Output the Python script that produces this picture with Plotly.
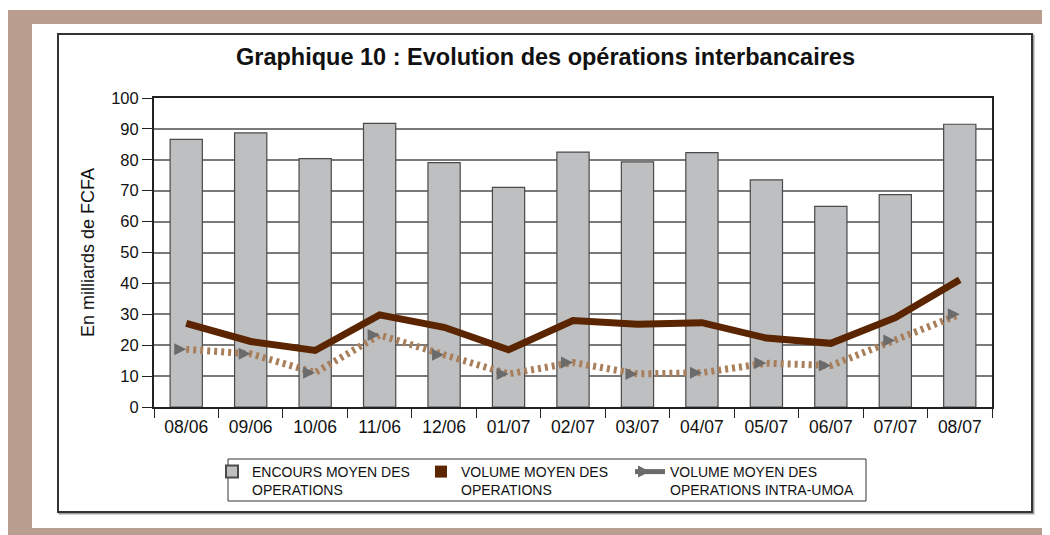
import plotly.graph_objects as go

months = ["08/06", "09/06", "10/06", "11/06", "12/06", "01/07", "02/07",
          "03/07", "04/07", "05/07", "06/07", "07/07", "08/07"]
encours = [86.6, 88.7, 80.4, 91.8, 79.1, 71.1, 82.5, 79.3, 82.3, 73.5, 64.9, 68.7, 91.5]
volume = [27.1, 21.2, 18.3, 29.8, 25.8, 18.5, 28.0, 26.8, 27.3, 22.3, 20.6, 28.9, 41.2]
intra = [18.7, 17.2, 11.1, 23.3, 16.9, 10.7, 14.4, 10.7, 11.1, 14.2, 13.4, 21.5, 30.0]

name_enc = "ENCOURS MOYEN DES<br>OPERATIONS"
name_vol = "VOLUME MOYEN DES<br>OPERATIONS"
name_int = "VOLUME MOYEN DES<br>OPERATIONS INTRA-UMOA"

W, H = 1042, 527
OFF = 8  # page body margin
L, R, T, B = 146, 58, 90, 128
PW, PH = W - L - R, H - T - B


def px(x):
    return (x - OFF - L) / PW


def py(y):
    return (H - B - (y - OFF)) / PH


BROWN = "#5a2500"
TAN = "#a97f5b"
GREY_MARK = "#6b6b6b"

fig = go.Figure()
fig.add_trace(go.Bar(x=months, y=encours, name=name_enc, legend="legend",
                     marker=dict(color="#bebfc1", line=dict(color="#4a4a4a", width=1.2)),
                     showlegend=True))
fig.add_trace(go.Scatter(x=months, y=volume, mode="lines",
                         line=dict(color=BROWN, width=7), showlegend=False))
fig.add_trace(go.Scatter(x=months, y=intra, mode="lines+markers",
                         line=dict(color=TAN, width=7, dash="3px,4px"),
                         marker=dict(symbol="arrow-right", size=12, color=GREY_MARK,
                                     line=dict(width=0)),
                         showlegend=False))
# legend-only entries
fig.add_trace(go.Scatter(x=[None], y=[None], mode="markers", name=name_vol, legend="legend2",
                         marker=dict(symbol="square", size=8, color=BROWN)))
fig.add_trace(go.Scatter(x=[None], y=[None], mode="lines+markers", name=name_int, legend="legend3",
                         line=dict(color=GREY_MARK, width=4),
                         marker=dict(symbol="arrow-right", size=11, color=GREY_MARK)))

shapes = [
    dict(type="rect", xref="paper", yref="paper", x0=px(0), x1=px(1060), y0=py(6), y1=py(10),
         fillcolor="white", line=dict(width=0), layer="below"),
    dict(type="rect", xref="paper", yref="paper", x0=px(32), x1=px(1044), y0=py(24), y1=py(528),
         fillcolor="white", line=dict(width=0), layer="below"),
    dict(type="rect", xref="paper", yref="paper", x0=px(59.5), x1=px(1033.5), y0=py(35.5), y1=py(513.5),
         fillcolor="rgba(0,0,0,0)", line=dict(color="#a0a0a0", width=2), layer="below"),
    dict(type="rect", xref="paper", yref="paper", x0=px(58), x1=px(1032), y0=py(34), y1=py(512),
         fillcolor="white", line=dict(color="#333333", width=2), layer="below"),
    dict(type="rect", xref="paper", yref="paper", x0=px(228), x1=px(866), y0=py(459), y1=py(501),
         fillcolor="rgba(0,0,0,0)", line=dict(color="#333333", width=1), layer="above"),
]

leg_common = dict(orientation="h", xanchor="left", yanchor="top", font=dict(size=14),
                  valign="top", bgcolor="rgba(0,0,0,0)", borderwidth=0, itemsizing="constant")

fig.update_layout(
    width=W, height=H,
    margin=dict(l=L, r=R, t=T, b=B),
    paper_bgcolor="#b99d8f", plot_bgcolor="white",
    font=dict(family="Liberation Sans, Arial, sans-serif", color="#111111"),
    bargap=0.5,
    shapes=shapes,
    annotations=[dict(text="<b>Graphique 10 : Evolution des opérations interbancaires</b>",
                      xref="paper", yref="paper", x=px(545), y=py(57),
                      xanchor="center", yanchor="middle", showarrow=False,
                      font=dict(size=23.5, color="#111111"))],
    legend=dict(x=px(212), y=py(456), **leg_common),
    legend2=dict(x=px(421), y=py(456), **leg_common),
    legend3=dict(x=px(630), y=py(456), **leg_common),
    xaxis=dict(type="category", tickson="boundaries", ticks="outside", ticklen=9,
               tickcolor="#222", showline=True, linecolor="#222", linewidth=2, mirror=True,
               showgrid=False, tickfont=dict(size=17.5), ticklabelstandoff=3,
               range=[-0.5, 12.5]),
    yaxis=dict(range=[0, 100], dtick=10, ticks="outside", ticklen=10, tickcolor="#222",
               showline=True, linecolor="#222", linewidth=2, mirror=True,
               showgrid=True, gridcolor="#7a7a7a", gridwidth=1.5,
               zeroline=False, tickfont=dict(size=16.5),
               title=dict(text="En milliards de FCFA", font=dict(size=18), standoff=12)),
)

fig.write_html("out.html")
